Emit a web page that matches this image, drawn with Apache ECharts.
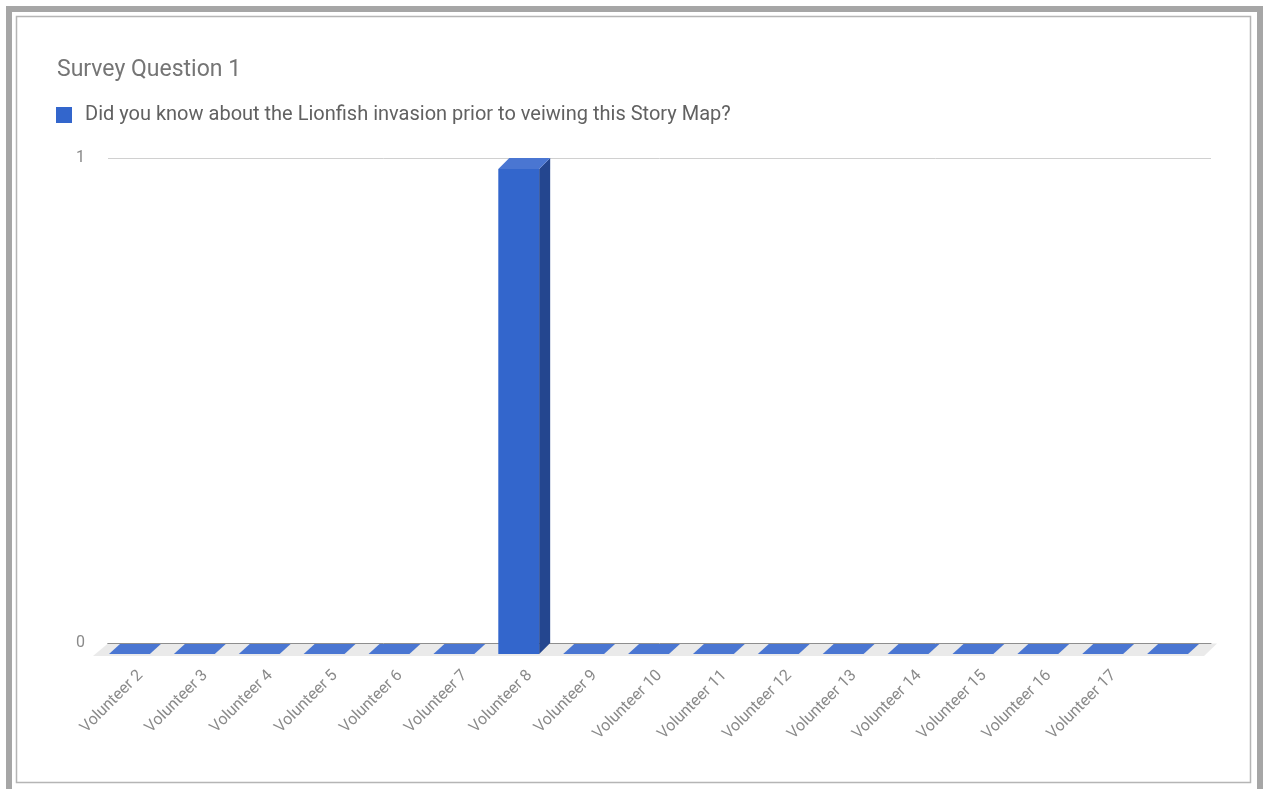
<!DOCTYPE html>
<html>
<head>
<meta charset="utf-8">
<script src="https://cdn.jsdelivr.net/npm/echarts@6/dist/echarts.min.js"></script>
<style>
html,body{margin:0;padding:0;background:#fff;}
#chart{width:1263px;height:789px;}
</style>
</head>
<body>
<div id="chart"></div>
<script>
const titleText = 'Survey Question 1';
const seriesName = 'Did you know about the Lionfish invasion prior to veiwing this Story Map?';
const categories = ['Volunteer 2','Volunteer 3','Volunteer 4','Volunteer 5','Volunteer 6','Volunteer 7','Volunteer 8','Volunteer 9','Volunteer 10','Volunteer 11','Volunteer 12','Volunteer 13','Volunteer 14','Volunteer 15','Volunteer 16','Volunteer 17',''];
const values = [0,0,0,0,0,0,1,0,0,0,0,0,0,0,0,0,0];
const yMin = 0, yMax = 1, yInterval = 1;

const chart = echarts.init(document.getElementById('chart'));
const DEPTH = 11;
const FRONT = '#3366cc', TOP = '#4a76d2', SIDE = '#24468f', FLOOR = '#eaeaea';

function renderItem(params, api) {
  const cs = params.coordSys;
  const i = api.value(0), v = api.value(1);
  const base = api.coord([i, 0]);
  const top = api.coord([i, v]);
  const band = api.size([1, 0])[0];
  const w = band * 0.63, d = DEPTH;
  const y0 = base[1], yt = top[1];
  const fx = base[0] - w / 2 - d;
  const children = [];
  if (params.dataIndex === 0) {
    children.push({
      type: 'polygon',
      shape: { points: [[cs.x, y0 + 0.6], [cs.x + cs.width + 6, y0 + 0.6], [cs.x + cs.width + 6 - d - 2, y0 + d + 2], [cs.x - d - 4, y0 + d + 2]] },
      style: { fill: FLOOR }
    });
  }
  const h = y0 - yt;
  if (h > 0.5) {
    children.push({ type: 'rect', shape: { x: fx, y: yt + d, width: w, height: h }, style: { fill: FRONT } });
    children.push({ type: 'polygon', shape: { points: [[fx + w, yt + d], [fx + w + d, yt], [fx + w + d, y0], [fx + w, y0 + d]] }, style: { fill: SIDE } });
  }
  children.push({ type: 'polygon', shape: { points: [[fx, yt + d], [fx + d, yt + (h > 0.5 ? 0 : 1)], [fx + w + d, yt + (h > 0.5 ? 0 : 1)], [fx + w, yt + d]] }, style: { fill: TOP } });
  return { type: 'group', children };
}

chart.setOption({
  backgroundColor: '#ffffff',
  animation: false,
  textStyle: { fontFamily: 'Roboto' },
  graphic: [
    { type: 'rect', shape: { x: 6, y: 6, width: 6, height: 790 }, style: { fill: '#a6a6a6' }, z: 10 },
    { type: 'rect', shape: { x: 6, y: 6, width: 1257, height: 6 }, style: { fill: '#a6a6a6' }, z: 10 },
    { type: 'rect', shape: { x: 1257, y: 6, width: 6, height: 790 }, style: { fill: '#a6a6a6' }, z: 10 },
    { type: 'rect', shape: { x: 16.5, y: 16.5, width: 1234, height: 766 }, style: { fill: null, stroke: '#b5b5b5', lineWidth: 1.5 }, z: 10 }
  ],
  title: {
    text: titleText, left: 52, top: 54,
    textStyle: { fontFamily: 'Roboto', fontSize: 23, fontWeight: 'normal', color: '#757575' }
  },
  legend: {
    data: [seriesName], left: 56, top: 105, padding: 0, itemWidth: 16, itemHeight: 16, icon: 'rect', itemGap: 10,
    textStyle: { fontFamily: 'Roboto', fontSize: 20, color: '#616161', padding: [0, 0, 0, 8] }
  },
  grid: { left: 108, right: 52, top: 158, bottom: 146 },
  xAxis: {
    type: 'category', data: categories,
    axisTick: { show: false },
    axisLine: { lineStyle: { color: '#333', width: 1 } },
    axisLabel: { interval: 0, rotate: 45, margin: 30, fontSize: 16, color: '#8a8a8a', fontFamily: 'Roboto' }
  },
  yAxis: {
    type: 'value', min: yMin, max: yMax, interval: yInterval,
    axisLine: { show: false }, axisTick: { show: false },
    axisLabel: { margin: 23, fontSize: 16, color: '#8a8a8a', fontFamily: 'Roboto' },
    splitLine: { lineStyle: { color: '#d0d0d0' } }
  },
  series: [{
    name: seriesName, type: 'custom', renderItem,
    itemStyle: { color: FRONT },
    encode: { x: 0, y: 1 },
    data: values.map((v, i) => [i, v])
  }]
});
</script>
</body>
</html>
